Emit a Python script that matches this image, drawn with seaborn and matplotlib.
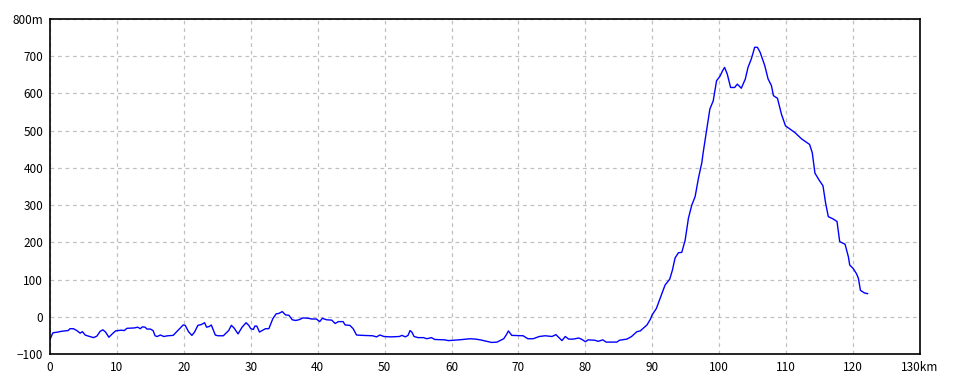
import matplotlib
matplotlib.use("Agg")
import matplotlib.pyplot as plt
import seaborn as sns
import pandas as pd

dist_km = [0.0, 0.35, 0.45, 1.2, 1.7, 2.7, 3.0, 3.5, 4.0, 4.5, 4.85, 5.25, 5.75, 6.5, 7.0, 7.5, 7.9, 8.3, 8.8, 9.3,
           9.8, 10.6, 11.1, 11.5, 12.6, 13.1, 13.5, 13.8, 14.2, 14.5, 15.0, 15.4, 15.7, 16.0, 16.5, 17.0, 17.6, 18.4,
           19.1, 19.9, 20.2, 20.7, 21.2, 21.6, 22.1, 22.6, 23.1, 23.4, 23.8, 24.1, 24.7, 25.1, 25.9, 26.7, 27.1, 27.5,
           28.1, 28.7, 29.3, 29.7, 30.0, 30.4, 30.6, 30.9, 31.3, 31.7, 32.2, 32.7, 33.3, 33.8, 34.2, 34.7, 35.2, 35.7,
           36.2, 36.7, 37.2, 37.8, 38.6, 39.1, 39.8, 40.3, 40.7, 41.3, 42.1, 42.6, 43.1, 43.8, 44.1, 44.8, 45.3, 45.8,
           46.7, 48.2, 48.8, 49.3, 49.9, 50.9, 52.2, 52.6, 53.1, 53.5, 53.8, 54.1, 54.4, 55.0, 55.8, 56.3, 57.0, 57.5,
           59.0, 59.5, 61.1, 62.8, 63.6, 64.3, 65.3, 66.0, 66.8, 67.8, 68.2, 68.5, 69.0, 70.7, 71.4, 72.2, 73.1, 74.0,
           75.0, 75.6, 76.0, 76.5, 77.0, 77.5, 78.2, 79.0, 79.5, 80.0, 80.4, 81.4, 81.9, 82.6, 83.1, 84.7, 85.1, 86.2,
           86.9, 87.4, 87.7, 88.2, 88.7, 89.2, 89.7, 90.0, 90.6, 91.1, 91.5, 91.9, 92.6, 93.0, 93.4, 93.9, 94.4, 94.9,
           95.4, 95.9, 96.4, 96.9, 97.4, 97.6, 98.1, 98.6, 99.1, 99.6, 100.1, 100.5, 100.8, 101.2, 101.7, 102.3,
           102.7, 103.3, 103.9, 104.3, 104.8, 105.3, 105.7, 106.1, 106.8, 107.3, 107.8, 108.1, 108.7, 109.3, 109.9,
           110.6, 111.3, 112.3, 113.5, 113.9, 114.3, 114.9, 115.5, 115.9, 116.3, 117.0, 117.6, 118.0, 118.8, 119.3,
           119.5, 120.0, 120.5, 120.8, 121.1, 121.7, 122.2]
elev_m = [-61, -46, -43, -41, -39, -37, -32, -32, -37, -44, -40, -49, -52, -56, -52, -39, -35, -41, -55, -46,
          -38, -36, -37, -31, -30, -28, -32, -27, -28, -33, -33, -37, -51, -53, -49, -53, -51, -50,
          -37, -22, -23, -40, -50, -41, -23, -21, -16, -28, -26, -22, -49, -51, -51, -37, -23, -30,
          -46, -28, -16, -23, -32, -34, -25, -25, -41, -37, -32, -32, -5, 8, 9, 14, 5, 4,
          -8, -10, -8, -3, -4, -6, -6, -13, -4, -8, -9, -18, -13, -13, -22, -23, -32, -49,
          -50, -51, -54, -49, -53, -54, -53, -50, -54, -50, -37, -42, -53, -56, -56, -59, -56, -61,
          -62, -64, -62, -59, -60, -62, -66, -69, -68, -59, -48, -38, -50, -51, -59, -59, -53, -51,
          -53, -48, -55, -64, -53, -60, -60, -57, -61, -67, -62, -63, -66, -62, -68, -68, -63, -60,
          -53, -45, -40, -38, -30, -22, -7, 6, 22, 46, 66, 85, 101, 125, 158, 172, 173, 205,
          265, 300, 323, 373, 414, 441, 499, 558, 580, 634, 646, 661, 670, 652, 616, 616,
          625, 614, 639, 670, 693, 724, 724, 711, 675, 639, 621, 594, 587, 544, 513,
          504, 495, 478, 463, 441, 386, 368, 352, 305, 269, 263, 256, 202, 195, 161,
          139, 130, 116, 103, 71, 64, 62]

x_ticks = [0, 10, 20, 30, 40, 50, 60, 70, 80, 90, 100, 110, 120, 130]
x_tick_labels = ["0", "10", "20", "30", "40", "50", "60", "70", "80", "90", "100", "110", "120", "130km"]
y_ticks = [-100, 0, 100, 200, 300, 400, 500, 600, 700, 800]
y_tick_labels = ["\u2212100", "0", "100", "200", "300", "400", "500", "600", "700", "800m"]

df = pd.DataFrame({"dist": dist_km, "elev": elev_m})

sns.set_style("white")
plt.rcParams["font.family"] = ["Noto Sans CJK JP", "DejaVu Sans"]

fig = plt.figure(figsize=(9.6, 3.84), dpi=100)
ax = fig.add_axes([50 / 960, 1 - 354 / 384, 870 / 960, 335 / 384])
sns.lineplot(data=df, x="dist", y="elev", ax=ax, color="#0000ff", linewidth=1.0, estimator=None, sort=False)

ax.set_xlim(0, 130)
ax.set_ylim(-100, 800)
ax.set_xticks(x_ticks)
ax.set_xticklabels(x_tick_labels)
ax.set_yticks(y_ticks)
ax.set_yticklabels(y_tick_labels)
ax.tick_params(axis="both", length=0, labelsize=8.5, colors="black", pad=5)
ax.set_xlabel("")
ax.set_ylabel("")
ax.grid(True, color="#c0c0c0", linestyle=(0, (3, 3)), linewidth=0.9)
for s in ax.spines.values():
    s.set_color("black")
    s.set_linewidth(1.2)
    s.set_visible(True)

fig.savefig("out.png", dpi=100, facecolor="white")
